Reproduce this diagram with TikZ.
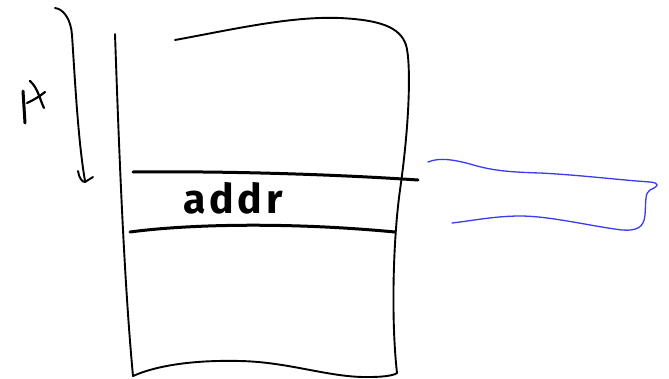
\documentclass[tikz,border=0pt]{standalone}
\usepackage{fontspec}
\setsansfont{Fira Sans}
\definecolor{penblue}{HTML}{3A3AEE}
\tikzset{
  pen/.style={line width=1.9pt, line cap=round, line join=round, black},
  thickpen/.style={line width=3pt, line cap=round, black},
  bluepen/.style={line width=1.3pt, line cap=round, line join=round, penblue},
  hand/.style={font=\sffamily\bfseries\fontsize{41}{43}\selectfont\addfontfeature{LetterSpace=9}, inner sep=0pt}
}
\begin{document}
\begin{tikzpicture}[x=1pt,y=-1pt]
\useasboundingbox (0,0) rectangle (669,378);
% box left edge
\draw[pen] (115,34) .. controls (119,150) and (124,280) .. (133,376);
% top edge and right edge
\draw[pen] (175,40) .. controls (230,30) and (290,16) .. (340,18)
  .. controls (380,20) and (400,27) .. (406,45)
  .. controls (411,62) and (410,120) .. (400,190)
  .. controls (393,240) and (391,320) .. (397,373);
% bottom edge
\draw[pen] (133,376) .. controls (160,364) and (200,360) .. (240,361)
  .. controls (290,362) and (330,378) .. (370,377)
  .. controls (385,377) and (395,375) .. (397,373);
% horizontal lines
\draw[thickpen] (133,172) .. controls (220,171) and (330,174) .. (418,180);
\draw[thickpen] (130,232) .. controls (190,224) and (290,222) .. (395,232);
% addr text
\node[hand, anchor=base] (addr) at (233,213) {addr};
% arrow on the left
\draw[pen] (55,8) .. controls (64,9) and (71,20) .. (72,35)
  .. controls (75,80) and (78,140) .. (85,181);
\draw[pen] (78,171) .. controls (79,178) and (82,182) .. (85,182) -- (93,177);
% handwritten glyph
\draw[line width=3pt, line cap=round, black] (23,91) -- (25,123);
\draw[line width=2.2pt, line cap=round, black] (30,81) .. controls (38,88) and (40,100) .. (44,108);
\draw[line width=2.2pt, line cap=round, black] (27,103) .. controls (34,100) and (40,96) .. (45,92);
% blue bracket
\draw[bluepen] (428,162) .. controls (440,157) and (455,160) .. (470,164)
  .. controls (490,170) and (505,172) .. (540,173)
  .. controls (580,175) and (620,180) .. (650,182)
  .. controls (660,183) and (659,186) .. (650,190)
  .. controls (645,193) and (646,200) .. (645,215)
  .. controls (644,228) and (636,231) .. (622,230)
  .. controls (590,226) and (550,216) .. (520,216)
  .. controls (495,216) and (470,221) .. (452,223);
\end{tikzpicture}
\end{document}
